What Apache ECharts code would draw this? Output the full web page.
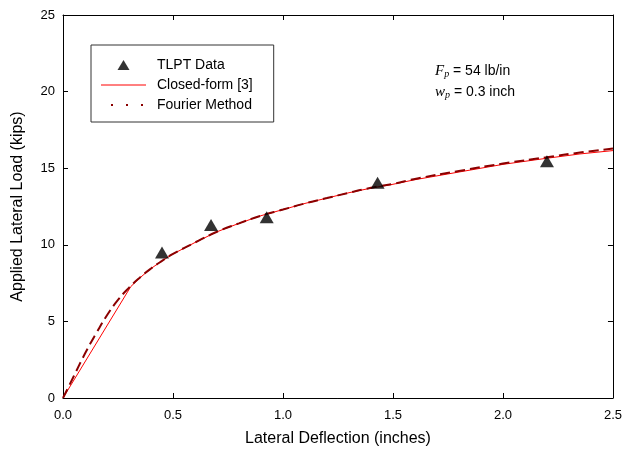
<!DOCTYPE html>
<html>
<head>
<meta charset="utf-8">
<script src="https://cdn.jsdelivr.net/npm/echarts@6/dist/echarts.min.js"></script>
<style>html,body{margin:0;padding:0;background:#fff}#c{width:625px;height:460px}</style>
</head>
<body>
<div id="c"></div>
<script>
// TLPT measured data (deflection in, load kips)
var tlptX = [0.45, 0.673, 0.926, 1.43, 2.2];
var tlptY = [9.5, 11.3, 11.8, 14.05, 15.45];

// Closed-form [3]
var closedX = [0, 0.308, 0.35, 0.4, 0.45, 0.5, 0.6, 0.7, 0.8, 0.9, 1.0, 1.1, 1.2, 1.3, 1.4, 1.5, 1.6, 1.8, 2.0, 2.2, 2.35, 2.5];
var closedY = [0, 7.27, 7.85, 8.45, 8.95, 9.4, 10.15, 10.85, 11.4, 11.9, 12.3, 12.7, 13.05, 13.4, 13.7, 13.95, 14.25, 14.75, 15.25, 15.65, 15.93, 16.15];

// Fourier Method
var fourierX = [0, 0.05, 0.1, 0.15, 0.2, 0.25, 0.3, 0.35, 0.4, 0.45, 0.5, 0.6, 0.7, 0.8, 0.9, 1.0, 1.1, 1.2, 1.3, 1.4, 1.5, 1.6, 1.8, 2.0, 2.2, 2.35, 2.5];
var fourierY = [0, 1.45, 2.9, 4.2, 5.4, 6.4, 7.2, 7.87, 8.45, 8.95, 9.4, 10.15, 10.85, 11.4, 11.9, 12.3, 12.7, 13.05, 13.4, 13.72, 13.98, 14.3, 14.82, 15.3, 15.72, 16.02, 16.28];

var xTicks = [0, 0.5, 1.0, 1.5, 2.0, 2.5];
var yTicks = [0, 5, 10, 15, 20, 25];

function pairs(xs, ys) { return xs.map(function (x, i) { return [x, ys[i]]; }); }

var font = 'Liberation Sans, Arial, sans-serif';
var serif = 'Liberation Serif, Times New Roman, serif';
var chart = echarts.init(document.getElementById('c'));

var axisCommon = {
  axisLine: { show: true, onZero: false, lineStyle: { color: '#000', width: 1 } },
  axisTick: { show: true, inside: true, length: 5, lineStyle: { color: '#000' } },
  splitLine: { show: false }
};

var rich = {
  v: { fontFamily: serif, fontStyle: 'italic', fontSize: 15, fill: '#000' },
  s: { fontFamily: serif, fontStyle: 'italic', fontSize: 10, fill: '#000', verticalAlign: 'bottom', padding: [6, 0, 0, 0] },
  t: { fontFamily: font, fontSize: 14, fill: '#000' }
};

var hiddenSymbol = { color: 'rgba(0,0,0,0)', borderWidth: 0, opacity: 0 };

chart.setOption({
  animation: false,
  backgroundColor: '#fff',
  grid: { left: 63, right: 12, top: 15, bottom: 62 },
  xAxis: [
    Object.assign({
      type: 'value', min: xTicks[0], max: xTicks[xTicks.length - 1], interval: 0.5, position: 'bottom',
      name: 'Lateral Deflection (inches)', nameLocation: 'middle', nameGap: 33,
      nameTextStyle: { fontFamily: font, fontSize: 16, color: '#000' },
      axisLabel: { fontFamily: font, fontSize: 13, color: '#000', margin: 11,
        formatter: function (v) { return v.toFixed(1); } }
    }, axisCommon),
    Object.assign({
      type: 'value', min: xTicks[0], max: xTicks[xTicks.length - 1], interval: 0.5, position: 'top',
      axisLabel: { show: false }
    }, axisCommon)
  ],
  yAxis: [
    Object.assign({
      type: 'value', min: yTicks[0], max: yTicks[yTicks.length - 1], interval: 5, position: 'left',
      name: 'Applied Lateral Load (kips)', nameLocation: 'middle', nameGap: 37,
      nameTextStyle: { fontFamily: font, fontSize: 16, color: '#000' },
      axisLabel: { fontFamily: font, fontSize: 13, color: '#000', margin: 8 }
    }, axisCommon),
    Object.assign({
      type: 'value', min: yTicks[0], max: yTicks[yTicks.length - 1], interval: 5, position: 'right',
      axisLabel: { show: false }
    }, axisCommon)
  ],
  legend: {
    orient: 'vertical', left: 91, top: 45,
    backgroundColor: '#fff', borderColor: '#333', borderWidth: 1,
    padding: [13, 21, 10, 9],
    itemWidth: 45, itemHeight: 10, itemGap: 6,
    symbolKeepAspect: true,
    textStyle: { fontFamily: font, fontSize: 14, color: '#000', padding: [0, 0, 0, 6] },
    data: [
      { name: 'TLPT Data', icon: 'path://M0,10L6,0L12,10Z', itemStyle: { color: '#000' } },
      { name: 'Closed-form [3]', itemStyle: hiddenSymbol, lineStyle: { color: '#ff0000', width: 1 } },
      { name: 'Fourier Method', itemStyle: hiddenSymbol, lineStyle: { type: [2, 13], width: 2, color: '#8b0000', dashOffset: -10 } }
    ]
  },
  graphic: [
    { type: 'text', left: 435, top: 64, style: { text: '{v|F}{s|p}{t| = 54 lb/in}', rich: rich } },
    { type: 'text', left: 435, top: 85, style: { text: '{v|w}{s|p}{t| = 0.3 inch}', rich: rich } }
  ],
  series: [
    {
      name: 'Closed-form [3]', type: 'line', data: pairs(closedX, closedY),
      symbol: 'none', showSymbol: false, smooth: false,
      lineStyle: { color: '#ff0000', width: 1 }, itemStyle: { color: '#ff0000' }, z: 2
    },
    {
      name: 'Fourier Method', type: 'line', data: pairs(fourierX, fourierY),
      symbol: 'none', showSymbol: false, smooth: true,
      lineStyle: { color: '#8b0000', width: 2, type: [10, 5] }, itemStyle: { color: '#8b0000' }, z: 3
    },
    {
      name: 'TLPT Data', type: 'scatter', data: pairs(tlptX, tlptY),
      symbol: 'triangle', symbolSize: [14, 12],
      itemStyle: { color: '#000' }, z: 4
    }
  ]
});
</script>
</body>
</html>
